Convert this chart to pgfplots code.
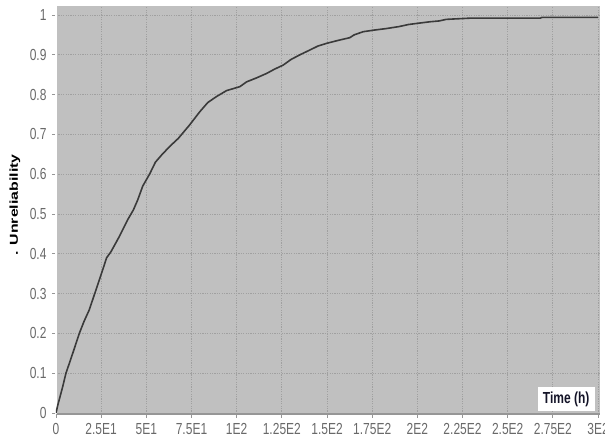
\documentclass[border=0pt]{standalone}
\usepackage{fontspec}
\setmainfont{Liberation Sans}
\newfontfamily\tickfont[FakeStretch=0.75]{Liberation Sans}
\newfontfamily\ylabfont[FakeStretch=1.38]{Liberation Sans}
\usepackage{pgfplots}
\pgfplotsset{compat=1.18}
\definecolor{bg}{RGB}{192,192,192}
\definecolor{gridgray}{RGB}{160,160,160}
\definecolor{axgray}{RGB}{150,150,150}
\definecolor{tickgray}{RGB}{105,105,105}
\definecolor{curve}{RGB}{58,58,58}
\definecolor{timecol}{RGB}{20,20,40}
\begin{document}
\begin{tikzpicture}
\path[use as bounding box] (-56pt,-27pt) rectangle (549pt,414pt);
\begin{axis}[
  at={(0pt,0pt)}, anchor=south west,
  scale only axis, width=544pt, height=408pt,
  xmin=0, xmax=301.1, ymin=-0.0025, ymax=1.0226,
  axis background/.style={fill=bg},
  axis x line=bottom, axis y line=left,
  axis line style={-},
  x axis line style={draw=axgray, line width=2.2pt},
  y axis line style={draw=axgray, line width=0.7pt, double=white, double distance=1.4pt},
  xtick={0,25,50,75,100,125,150,175,200,225,250,275,300},
  xticklabels={0,2.5E1,5E1,7.5E1,1E2,1.25E2,1.5E2,1.75E2,2E2,2.25E2,2.5E2,2.75E2,3E2},
  ytick={0,0.1,0.2,0.3,0.4,0.5,0.6,0.7,0.8,0.9,1},
  yticklabels={0,0.1,0.2,0.3,0.4,0.5,0.6,0.7,0.8,0.9,1},
  tick align=outside, major tick length=4pt,
  tick style={draw=axgray, line width=0.8pt},
  ticklabel style={font=\tickfont\fontsize{16}{16}\selectfont, text=tickgray},
  xticklabel style={yshift=-4.5pt, inner ysep=1pt},
  yticklabel style={xshift=-2pt},
  grid=major,
  grid style={draw=gridgray, line width=0.8pt, dash pattern=on 1.2pt off 1.2pt},
]
\addplot[draw=curve, line width=1.6pt] coordinates {
(0,0) (1,0.02) (3.7,0.066) (5.5,0.1) (7.4,0.125) (10,0.16) (12.9,0.20)
(15.5,0.23) (18.4,0.259) (22.1,0.309) (25.8,0.359) (28,0.39) (30.4,0.405)
(35,0.443) (39.6,0.485) (42.8,0.51) (45.2,0.535) (48,0.57) (52,0.602)
(55,0.63) (58.4,0.648) (63,0.67) (67.7,0.69) (74,0.724) (79.6,0.757)
(84,0.78) (88.8,0.795) (94.4,0.81) (101.8,0.82) (105.5,0.832) (111,0.842)
(116.5,0.853) (121,0.864) (125.7,0.874) (130,0.888) (135,0.90) (140.5,0.912)
(145,0.922) (150,0.929) (156,0.936) (162.6,0.943) (165,0.95) (170,0.958)
(176,0.962) (183,0.966) (190,0.971) (195,0.976) (200,0.979) (207,0.983)
(212,0.985) (216,0.989) (229,0.992) (268,0.992) (269,0.994) (300,0.994)
};
\node[fill=white, minimum width=57pt, minimum height=24pt, inner sep=0pt,
      text=timecol, font=\tickfont\bfseries\fontsize{16}{16}\selectfont]
      at (axis cs:282.4,0.035) {Time (h)};
\end{axis}
\node[rotate=90, font=\ylabfont\bfseries\fontsize{11.5}{11.5}\selectfont, text=black]
  at (-41pt,209pt) {.\hspace{6pt}Unreliability};
\end{tikzpicture}
\end{document}
